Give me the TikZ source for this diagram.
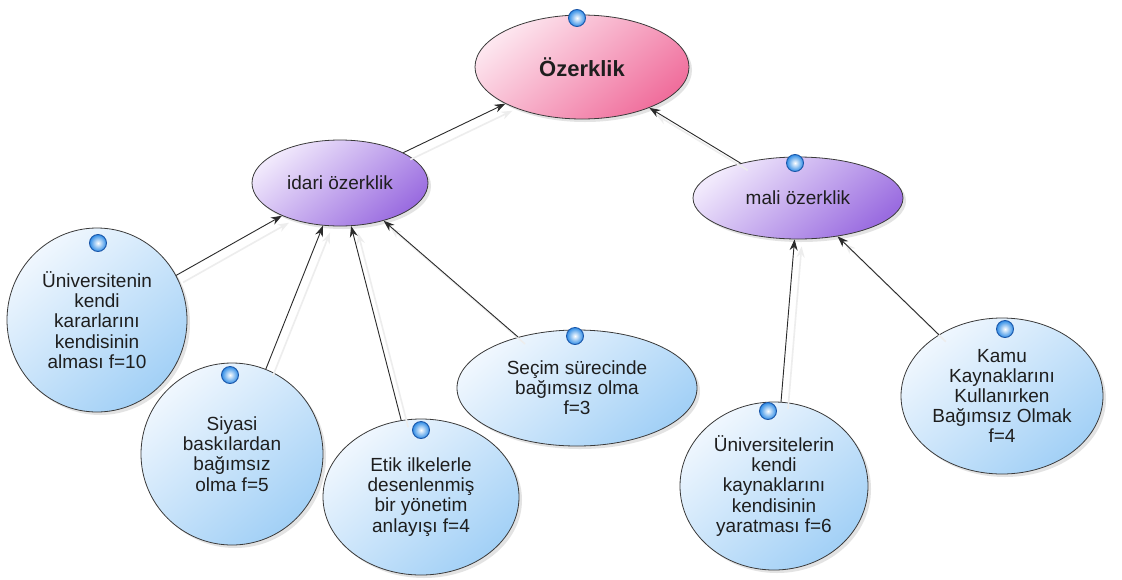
\documentclass[tikz,border=0pt]{standalone}
\usepackage{fontspec}
\setmainfont{Liberation Sans}
\usetikzlibrary{shapes.geometric,arrows.meta,shadows}
\definecolor{outl}{HTML}{3A3A3A}
\definecolor{linec}{HTML}{2A2A2A}
\definecolor{txtc}{HTML}{1E1E1E}
\definecolor{pinkL}{HTML}{FDE6EF}
\definecolor{pinkD}{HTML}{F06E9C}
\definecolor{purL}{HTML}{F1E9FC}
\definecolor{purD}{HTML}{9A6CE0}
\definecolor{bluL}{HTML}{F0F7FE}
\definecolor{bluD}{HTML}{A2D0F6}
\definecolor{dotB}{HTML}{2E8CE6}
\definecolor{dotR}{HTML}{1A56A8}
\begin{document}
\begin{tikzpicture}[x=1pt,y=-1pt,
  bub/.style={ellipse, draw=outl, line width=0.8pt, inner sep=0pt, align=center,
    text=txtc, font=\fontsize{19}{20.2}\selectfont,
    drop shadow={shadow xshift=3pt, shadow yshift=-3pt, opacity=0.18, fill=black!60}},
  pinkbub/.style={bub, top color=pinkL, bottom color=pinkD, shading angle=40},
  purbub/.style={bub, top color=purL, bottom color=purD, shading angle=40},
  blubub/.style={bub, top color=bluL, bottom color=bluD, shading angle=40},
  dot/.style={circle, minimum size=17pt, inner sep=0pt, draw=dotR, line width=0.9pt,
    inner color=white, outer color=dotB},
  edge/.style={draw=linec, line width=0.9pt, -{Stealth[length=11pt,width=8pt]}},
  eshadow/.style={draw=black!7, line width=1.6pt, -{Stealth[length=11pt,width=8pt]},
    transform canvas={shift={(7pt,-7pt)}}}]
\useasboundingbox[fill=white] (0,0) rectangle (1122,579);

\node[pinkbub, minimum width=214pt, minimum height=104pt,
  font=\fontsize{22}{24}\selectfont\bfseries] (oz) at (582,67) {Özerklik};
\node[purbub, minimum width=176pt, minimum height=86pt] (idari) at (340,183) {idari özerklik};
\node[purbub, minimum width=210pt, minimum height=82pt] (mali) at (798,198) {mali özerklik};

\node[blubub, minimum width=180pt, minimum height=184pt] (u1) at (97,320)
  {Üniversitenin\\kendi\\kararlarını\\kendisinin\\alması f=10};
\node[blubub, minimum width=182pt, minimum height=182pt] (siy) at (232,454)
  {Siyasi\\baskılardan\\bağımsız\\olma f=5};
\node[blubub, minimum width=196pt, minimum height=156pt] (etik) at (421,497)
  {Etik ilkelerle\\desenlenmiş\\bir yönetim\\anlayışı f=4};
\node[blubub, minimum width=240pt, minimum height=116pt] (secim) at (577,388)
  {Seçim sürecinde\\bağımsız olma\\f=3};
\node[blubub, minimum width=188pt, minimum height=168pt] (u2) at (774,486)
  {Üniversitelerin\\kendi\\kaynaklarını\\kendisinin\\yaratması f=6};
\node[blubub, minimum width=202pt, minimum height=156pt] (kamu) at (1002,396)
  {Kamu\\Kaynaklarını\\Kullanırken\\Bağımsız Olmak\\f=4};

\foreach \a/\b in {idari/oz, mali/oz, u1/idari, siy/idari, etik/idari, secim/idari, u2/mali, kamu/mali}
  {\draw[eshadow] (\a) -- (\b);}
\foreach \a/\b in {idari/oz, mali/oz, u1/idari, siy/idari, etik/idari, secim/idari, u2/mali, kamu/mali}
  {\draw[edge] (\a) -- (\b);}

\node[dot] (d0) at (577,18) {};
\node[dot] (d1) at (795,163) {};
\node[dot] (d2) at (98,243) {};
\node[dot] (d3) at (230,375) {};
\node[dot] (d4) at (421,430) {};
\node[dot] (d5) at (575,336) {};
\node[dot] (d6) at (768,411) {};
\node[dot] (d7) at (1005,329) {};
\end{tikzpicture}
\end{document}
